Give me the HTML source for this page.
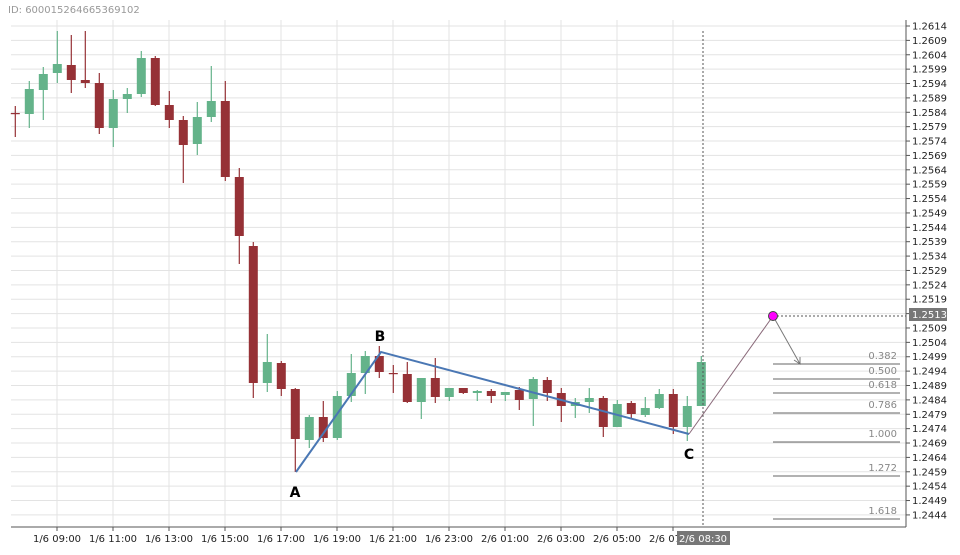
<!DOCTYPE html>
<html><head><meta charset="utf-8"><style>
body{margin:0;background:#fff;width:960px;height:550px;overflow:hidden}
text{font-family:"DejaVu Sans","Liberation Sans",sans-serif}
</style></head><body>
<svg id="s" width="960" height="550" xmlns="http://www.w3.org/2000/svg"></svg>
<script>
const s=document.getElementById('s');let h='';
h+='<text x="8" y="13" font-size="10" fill="#999">ID: 600015264665369102</text>';
// horizontal grid + price labels
for(let k=0;k<35;k++){const y=26+k*14.38;const p=(1.2614-k*0.0005).toFixed(4);
h+=`<line x1="11" x2="906" y1="${y}" y2="${y}" stroke="#e3e3e3"/>`;
h+=`<line x1="906" x2="910" y1="${y}" y2="${y}" stroke="#555"/>`;
if(p!=="1.2514")h+=`<text x="912" y="${y+3.5}" font-size="10" fill="#222">${p}</text>`;}
// vertical grid + time labels
const tl=["1/6 09:00","1/6 11:00","1/6 13:00","1/6 15:00","1/6 17:00","1/6 19:00","1/6 21:00","1/6 23:00","2/6 01:00","2/6 03:00","2/6 05:00","2/6 07:00"];
tl.forEach((t,i)=>{const x=57+56*i;h+=`<line x1="${x}" x2="${x}" y1="20" y2="527" stroke="#e3e3e3"/><line x1="${x}" x2="${x}" y1="527" y2="531" stroke="#555"/><text x="${x}" y="542" font-size="10" text-anchor="middle" fill="#222">${t}</text>`;});
h+='<line x1="906" y1="20" x2="906" y2="527" stroke="#555"/><line x1="11" y1="527" x2="906" y2="527" stroke="#555"/>';
// candles: [type, bodyTop, bodyBot, wickTop, wickBot]
const c=[['r',113,114,106,137],['g',89,114,81,128],['g',74,90,67,120],['g',64,73,31,83],['r',65,80,35,93],['r',80,83,31,88],['r',83,128,73,134],['g',99,128,90,147],['g',94,99,88,113],['g',58,94,51,97],['r',58,105,56,106],['r',105,120,91,128],['r',120,145,116,183],['g',117,144,102,155],['g',101,117,66,122],['r',101,177,81,181],['r',177,236,168,264],['r',246,383,242,398],['g',362,383,334,392],['r',363,389,361,396],['r',389,439,388,472],['g',417,440,415,448],['r',417,438,401,442],['g',396,438,391,440],['g',373,396,354,402],['g',356,373,351,394],['r',356,372,346,378],['r',373,374,365,393],['r',374,402,362,403],['g',378,402,378,419],['r',378,397,358,403],['g',388,397,388,401],['r',388,393,388,394],['g',391,393,390,401],['r',391,396,389,403],['g',392,395,392,401],['r',390,400,387,410],['g',379,399,377,426],['r',380,393,377,401],['r',393,406,388,422],['g',402,406,398,418],['g',398,402,388,413],['r',398,427,396,437],['g',404,427,400,427],['r',403,414,401,419],['g',408,415,397,417],['g',394,408,389,409],['r',394,427,389,434],['g',406,427,396,441],['g',362,406,356,406]];
c.forEach((d,i)=>{const x=15.3+14*i;const col=d[0]=='r'?'#963136':'#64b38a';
h+=`<line x1="${x}" x2="${x}" y1="${d[3]}" y2="${d[4]}" stroke="${col}" stroke-width="1.2"/>`;
const bh=Math.max(d[2]-d[1],1.2);h+=`<rect x="${x-4.5}" y="${d[1]}" width="9" height="${bh}" fill="${col}"/>`;});
// dashed vertical
h+='<line x1="703" x2="703" y1="31" y2="527" stroke="#555" stroke-dasharray="2,2"/>';
// ABC
h+='<polyline points="296,472 381,352 689,434" fill="none" stroke="#4a77b4" stroke-width="2"/>';
h+='<text x="295" y="497" font-size="14" font-weight="bold" text-anchor="middle">A</text><text x="380" y="341" font-size="14" font-weight="bold" text-anchor="middle">B</text><text x="689" y="459" font-size="14" font-weight="bold" text-anchor="middle">C</text>';
h+='<line x1="689" y1="434" x2="773" y2="316" stroke="#8a6a7a"/>';
h+='<line x1="773" y1="316" x2="800" y2="364" stroke="#777"/><polyline points="794,360 800,364 800,357" fill="none" stroke="#777"/>';
h+='<line x1="773" x2="906" y1="316" y2="316" stroke="#555" stroke-dasharray="2,2"/>';
h+='<circle cx="773" cy="316" r="4.5" fill="#f0f" stroke="#444"/>';
h+='<rect x="909" y="308" width="38" height="13" fill="#777"/><text x="912" y="318" font-size="10" fill="#fff">1.2513</text>';
// fib
[['0.382',364],['0.500',379],['0.618',393],['0.786',413],['1.000',442],['1.272',476],['1.618',519]].forEach(f=>{
h+=`<line x1="773" x2="900" y1="${f[1]}" y2="${f[1]}" stroke="#666"/><text x="897" y="${f[1]-5}" font-size="10" text-anchor="end" fill="#888">${f[0]}</text>`;});
h+='<rect x="677" y="531" width="53" height="14" fill="#777"/><text x="703" y="542" font-size="10" text-anchor="middle" fill="#fff">2/6 08:30</text>';
s.innerHTML=h;
</script>
</body></html>
